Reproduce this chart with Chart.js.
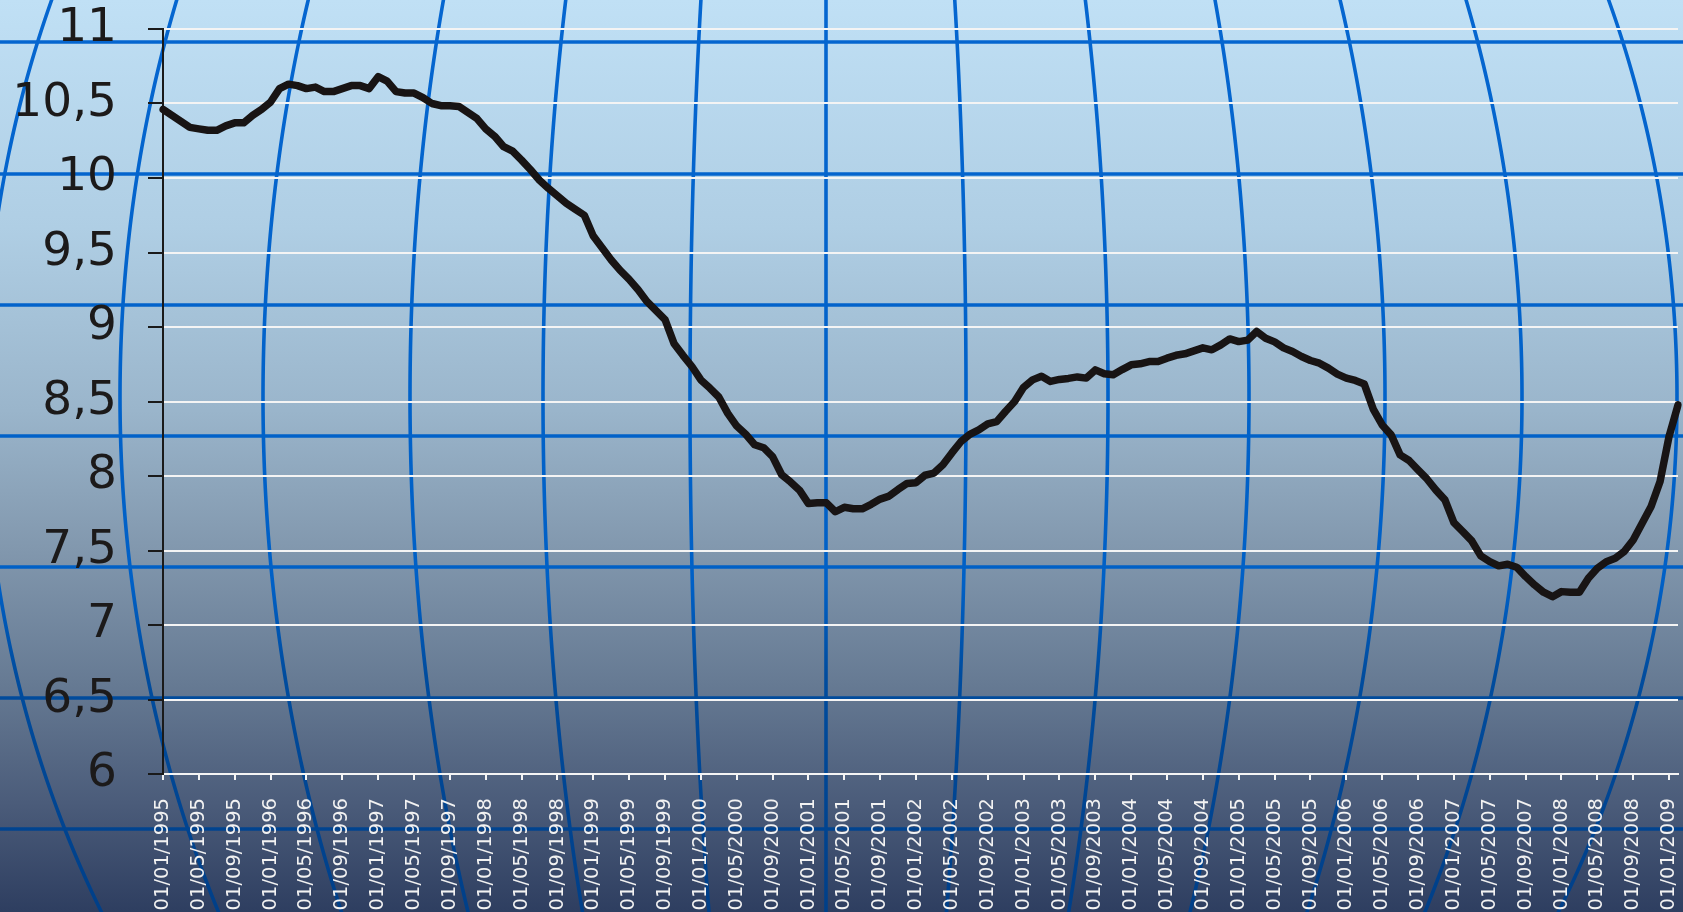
<!DOCTYPE html>
<html>
<head>
<meta charset="utf-8">
<script src="https://cdn.jsdelivr.net/npm/chart.js@4.4.1/dist/chart.umd.min.js"></script>
<style>
  html, body { margin: 0; padding: 0; background: #2f3f60; }
  #wrap { width: 1683px; height: 912px; }
</style>
</head>
<body>
<div id="wrap"><canvas id="c" width="1683" height="912"></canvas></div>
<script>
// Monthly series, January 1995 to February 2009
const startYear = 1995;
const monthCount = 170;
const months = [];
for (let i = 0; i < monthCount; i++) {
  const y = startYear + Math.floor(i / 12);
  const m = (i % 12) + 1;
  months.push('01/' + (m < 10 ? '0' + m : m) + '/' + y);
}

const values = [
  10.46, 10.42, 10.38, 10.34, 10.33, 10.32, 10.32, 10.35, 10.37, 10.37, 10.42, 10.46,
  10.51, 10.60, 10.63, 10.62, 10.60, 10.61, 10.58, 10.58, 10.60, 10.62, 10.62, 10.60,
  10.68, 10.65, 10.58, 10.57, 10.57, 10.54, 10.50, 10.485, 10.485, 10.48, 10.44, 10.40,
  10.33, 10.28, 10.21, 10.18, 10.12, 10.055, 9.985, 9.93, 9.88, 9.83, 9.79, 9.75,
  9.61, 9.53, 9.45, 9.38, 9.32, 9.25, 9.17, 9.11, 9.05, 8.89, 8.81, 8.735,
  8.645, 8.59, 8.53, 8.42, 8.335, 8.28, 8.21, 8.19, 8.13, 8.01, 7.96, 7.905,
  7.815, 7.82, 7.82, 7.76, 7.79, 7.78, 7.78, 7.81, 7.845, 7.865, 7.91, 7.95,
  7.955, 8.005, 8.02, 8.075, 8.155, 8.23, 8.28, 8.31, 8.35, 8.365, 8.435, 8.50,
  8.595, 8.645, 8.67, 8.635, 8.648, 8.655, 8.665, 8.657, 8.712, 8.686, 8.679, 8.714,
  8.746, 8.753, 8.768, 8.768, 8.791, 8.81, 8.82, 8.84, 8.86, 8.847, 8.88, 8.92,
  8.902, 8.912, 8.97, 8.925, 8.90, 8.86, 8.835, 8.802, 8.775, 8.757, 8.724, 8.684,
  8.657, 8.641, 8.618, 8.449, 8.343, 8.276, 8.142, 8.104, 8.041, 7.98, 7.905, 7.84,
  7.687, 7.627, 7.564, 7.464, 7.425, 7.397, 7.408, 7.388, 7.325, 7.269, 7.22, 7.19,
  7.224, 7.22, 7.22, 7.314, 7.381, 7.425, 7.448, 7.493, 7.571, 7.683, 7.795, 7.963,
  8.265, 8.477
];

// Value axis range and step
const yMin = 6;
const yMax = 11;
const yStep = 0.5;
// A date label every fourth month
const labelEvery = 4;

// Background: sky gradient with a globe-like grid of parallels and meridians
const parallelsY = [42, 174, 305, 436, 567, 698, 829];
const meridianMids = [-16, 120, 263, 410, 543, 690, 826, 966, 1108, 1249, 1385, 1522, 1677];
const globeCX = 826, globeEq = 397, globeR = 1011;

const globeBackground = {
  id: 'globeBackground',
  beforeDraw(chart) {
    const ctx = chart.ctx;
    const W = chart.width, H = chart.height;
    ctx.save();
    const bg = ctx.createLinearGradient(0, 0, 0, H);
    bg.addColorStop(0.00, '#c0e0f5');
    bg.addColorStop(0.25, '#afcee4');
    bg.addColorStop(0.45, '#9ab5cb');
    bg.addColorStop(0.60, '#8298ae');
    bg.addColorStop(0.75, '#667a93');
    bg.addColorStop(0.88, '#4b5c7a');
    bg.addColorStop(1.00, '#2e3e60');
    ctx.fillStyle = bg;
    ctx.fillRect(0, 0, W, H);

    const ink = ctx.createLinearGradient(0, 0, 0, H);
    ink.addColorStop(0.00, '#0566d0');
    ink.addColorStop(0.64, '#0060c6');
    ink.addColorStop(0.74, '#004c9e');
    ink.addColorStop(1.00, '#003f88');
    ctx.strokeStyle = ink;

    ctx.lineWidth = 3.6;
    parallelsY.forEach(y => {
      ctx.beginPath();
      ctx.moveTo(0, y);
      ctx.lineTo(W, y);
      ctx.stroke();
    });

    ctx.lineWidth = 3.6;
    ctx.lineJoin = 'round';
    meridianMids.forEach(mx => {
      ctx.beginPath();
      for (let y = -4; y <= H + 4; y += 4) {
        const d = (y - globeEq) / globeR;
        const s = Math.sqrt(Math.max(0, 1 - d * d));
        const x = globeCX + (mx - globeCX) * s;
        if (y === -4) ctx.moveTo(x, y); else ctx.lineTo(x, y);
      }
      ctx.stroke();
    });
    ctx.restore();
  }
};

const fontFamily = '"DejaVu Sans", Verdana, sans-serif';

new Chart(document.getElementById('c'), {
  type: 'line',
  data: {
    labels: months,
    datasets: [{
      data: values,
      borderColor: '#181414',
      borderWidth: 7.5,
      pointRadius: 0,
      tension: 0,
      fill: false,
      borderJoinStyle: 'round',
      borderCapStyle: 'round'
    }]
  },
  options: {
    responsive: false,
    animation: false,
    devicePixelRatio: 1,
    layout: { padding: { top: 29, right: 5, left: 0, bottom: 0 } },
    plugins: { legend: { display: false }, tooltip: { enabled: false } },
    scales: {
      x: {
        type: 'category',
        offset: false,
        grid: {
          drawOnChartArea: false,
          drawTicks: true,
          tickLength: 6,
          lineWidth: 2,
          color: ctx => (ctx.index % labelEvery === 0 ? '#f4f4f4' : 'rgba(0,0,0,0)'),
          tickColor: ctx => (ctx.index % labelEvery === 0 ? '#f4f4f4' : 'rgba(0,0,0,0)')
        },
        border: { display: true, color: '#f4f4f4', width: 2 },
        ticks: {
          autoSkip: false,
          minRotation: 90,
          maxRotation: 90,
          color: '#f2f2f2',
          padding: 18,
          font: { family: fontFamily, size: 19.5 },
          callback: function (value, index) {
            return index % labelEvery === 0 ? this.getLabelForValue(value) : '';
          }
        },
        afterFit: scale => {
          scale.height = 138;
          scale.paddingLeft = 0;
          scale.paddingRight = 0;
        }
      },
      y: {
        min: yMin,
        max: yMax,
        grid: {
          color: '#f4f4f4',
          lineWidth: 2,
          tickColor: '#1a1a1a',
          tickLength: 15,
          tickWidth: 2
        },
        border: { display: true, color: '#1a1a1a', width: 2 },
        ticks: {
          stepSize: yStep,
          color: '#1c1a1a',
          padding: 31,
          font: { family: fontFamily, size: 47 },
          callback: v => String(v).replace('.', ',')
        },
        afterFit: scale => {
          scale.width = 163;
          scale.paddingTop = 0;
          scale.paddingBottom = 0;
        }
      }
    }
  },
  plugins: [globeBackground]
});
</script>
</body>
</html>
